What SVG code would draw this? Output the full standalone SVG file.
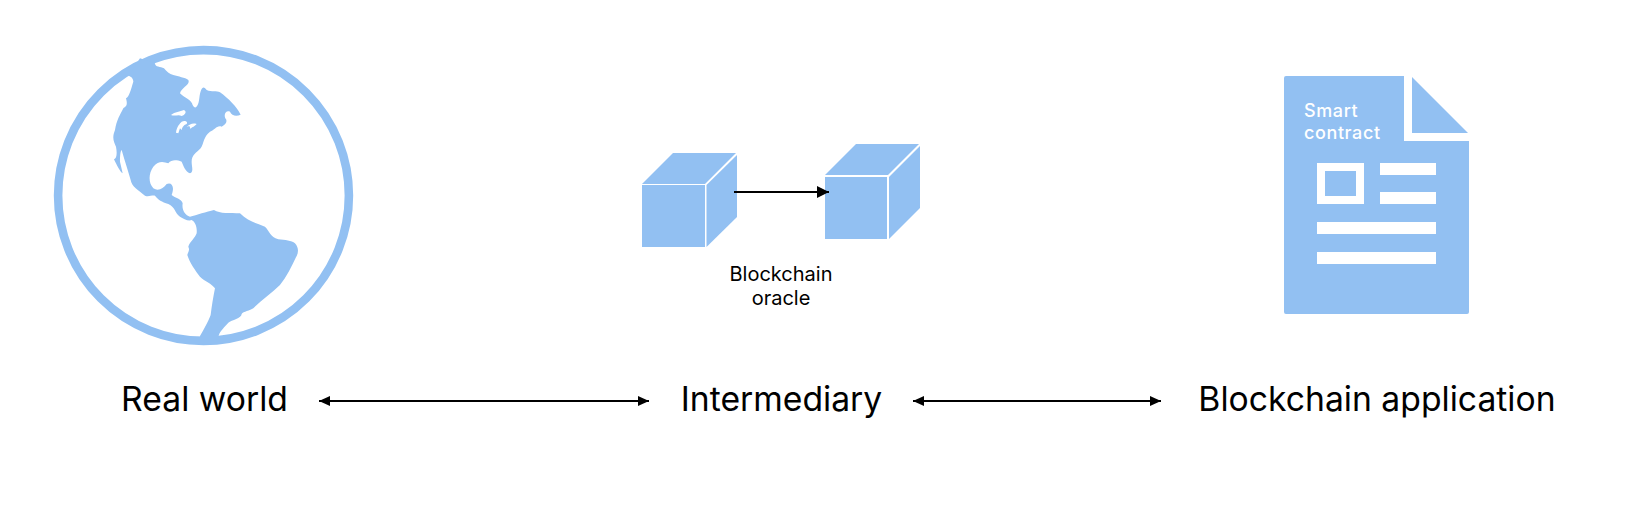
<svg xmlns="http://www.w3.org/2000/svg" width="1628" height="520" viewBox="0 0 1628 520">
<defs>
<style>
.lbl{font-family:"Inter","Liberation Sans",sans-serif;fill:#000;text-anchor:middle}
.big{font-size:33.700px}
.sm{font-size:20px}
.wt{font-family:"Inter","Liberation Sans",sans-serif;font-size:18px;letter-spacing:.6px;font-weight:500;fill:#fff}
.b{fill:#92c0f2}
.w{fill:#fff}
.conn{stroke:#000;stroke-width:2;fill:none}
</style>
<marker id="ah" markerUnits="userSpaceOnUse" markerWidth="12" markerHeight="12" refX="11" refY="6" orient="auto-start-reverse"><path d="M0 1L11 6L0 11Z" fill="#000"/></marker>
<marker id="ah2" markerUnits="userSpaceOnUse" markerWidth="14" markerHeight="14" refX="12" refY="7" orient="auto"><path d="M0 1L12 7L0 13Z" fill="#000"/></marker>
</defs>
<rect width="1628" height="520" fill="#fff"/>
<g id="globe">
<circle cx="203.500" cy="195.500" r="145.400" fill="none" stroke="#92c0f2" stroke-width="8.600"/>
<path class="b" transform="translate(40,30) scale(.3333)" d="M345 100C345 112 362 110 372 115C380 125 388 132 400 135C415 140 435 142 445 150C452 165 425 172 420 190C435 205 455 210 458 225C465 240 475 232 478 205C482 172 490 165 500 180C515 187 530 180 540 187C565 205 590 230 602 254C590 260 575 258 570 245C560 240 550 250 556 265C565 275 555 285 545 290C530 285 525 300 510 305C490 320 492 340 482 355C470 368 455 375 455 395C455 410 462 425 450 430C435 425 430 405 425 395C410 390 395 388 385 400C370 395 355 392 340 410C325 430 325 460 340 475C355 485 370 475 380 462C395 455 405 470 395 495C405 505 425 505 428 520C425 540 435 555 450 560C470 555 500 545 522 540C540 552 570 548 600 550C625 575 650 580 675 590C690 605 690 620 715 628C735 630 755 632 765 640C778 655 775 670 768 682C755 710 740 740 720 765C695 790 665 810 640 835C630 842 610 845 605 852C605 865 575 870 565 878C555 890 540 903 537 915L530 930L480 930L480 918C490 900 505 875 512 855C515 830 520 800 525 775C515 760 495 755 480 740C465 720 450 700 442 675C445 665 450 660 445 650C450 635 465 625 470 610C472 590 465 575 455 570C445 575 430 565 420 560C405 550 405 530 385 522C365 515 355 510 345 497C335 495 325 502 315 497C295 480 275 470 272 450C265 425 255 395 245 360C240 365 240 385 240 395L248 430C240 425 230 405 222 388C230 385 232 370 228 350C222 335 215 325 225 300C230 270 240 255 250 235C255 230 265 230 258 205C268 200 272 180 280 155C280 145 272 138 265 138L300 85Z"/>
<path class="w" transform="translate(40,30) scale(.3333)" d="M393 255C405 245 420 245 432 240C442 245 435 255 425 258C415 252 405 260 393 255ZM408 308C410 290 420 280 425 275C435 270 445 275 440 282C430 285 425 295 425 300L420 295L415 310ZM440 290C450 285 455 278 470 282C462 292 455 290 452 297L448 288Z"/>
</g>
<g id="oracle">
<g id="cube1">
<rect class="b" x="642" y="185" width="63" height="62"/>
<path class="b" d="M642 184L673 153H736L705 184Z"/>
<path class="b" d="M706.500 185L737 155V217L706.500 247Z"/>
</g>
<g id="cube2">
<rect class="b" x="825" y="177" width="62" height="62"/>
<path class="b" d="M825 175L856 144H919L888 175Z"/>
<path class="b" d="M889 177L920 146V208L889 239Z"/>
</g>
<text class="lbl sm" x="781" y="281">Blockchain</text>
<text class="lbl sm" x="781" y="305">oracle</text>
</g>
<g id="contract">
<path class="b" d="M1286 76H1404V141H1469V312Q1469 314 1467 314H1286Q1284 314 1284 312V78Q1284 76 1286 76Z"/>
<path class="b" d="M1412 77L1468 133H1412Z"/>
<text class="wt" x="1304" y="117">Smart</text>
<text class="wt" x="1304" y="139">contract</text>
<path class="w" fill-rule="evenodd" d="M1317 163H1364V204H1317ZM1325 171V196H1356V171Z"/>
<rect class="w" x="1380" y="163" width="56" height="12"/>
<rect class="w" x="1380" y="192" width="56" height="12"/>
<rect class="w" x="1317" y="222" width="119" height="12"/>
<rect class="w" x="1317" y="252" width="119" height="12"/>
</g>
<g id="labels">
<text class="lbl big" x="204.500" y="411">Real world</text>
<text class="lbl big" x="781.500" y="411">Intermediary</text>
<text class="lbl big" x="1377" y="411">Blockchain application</text>
</g>
<g id="connectors">
<line class="conn" x1="319" y1="401" x2="649" y2="401" marker-start="url(#ah)" marker-end="url(#ah)"/>
<line class="conn" x1="913" y1="401" x2="1161" y2="401" marker-start="url(#ah)" marker-end="url(#ah)"/>
<line class="conn" x1="734" y1="192" x2="829" y2="192" marker-end="url(#ah2)"/>
</g>
</svg>
